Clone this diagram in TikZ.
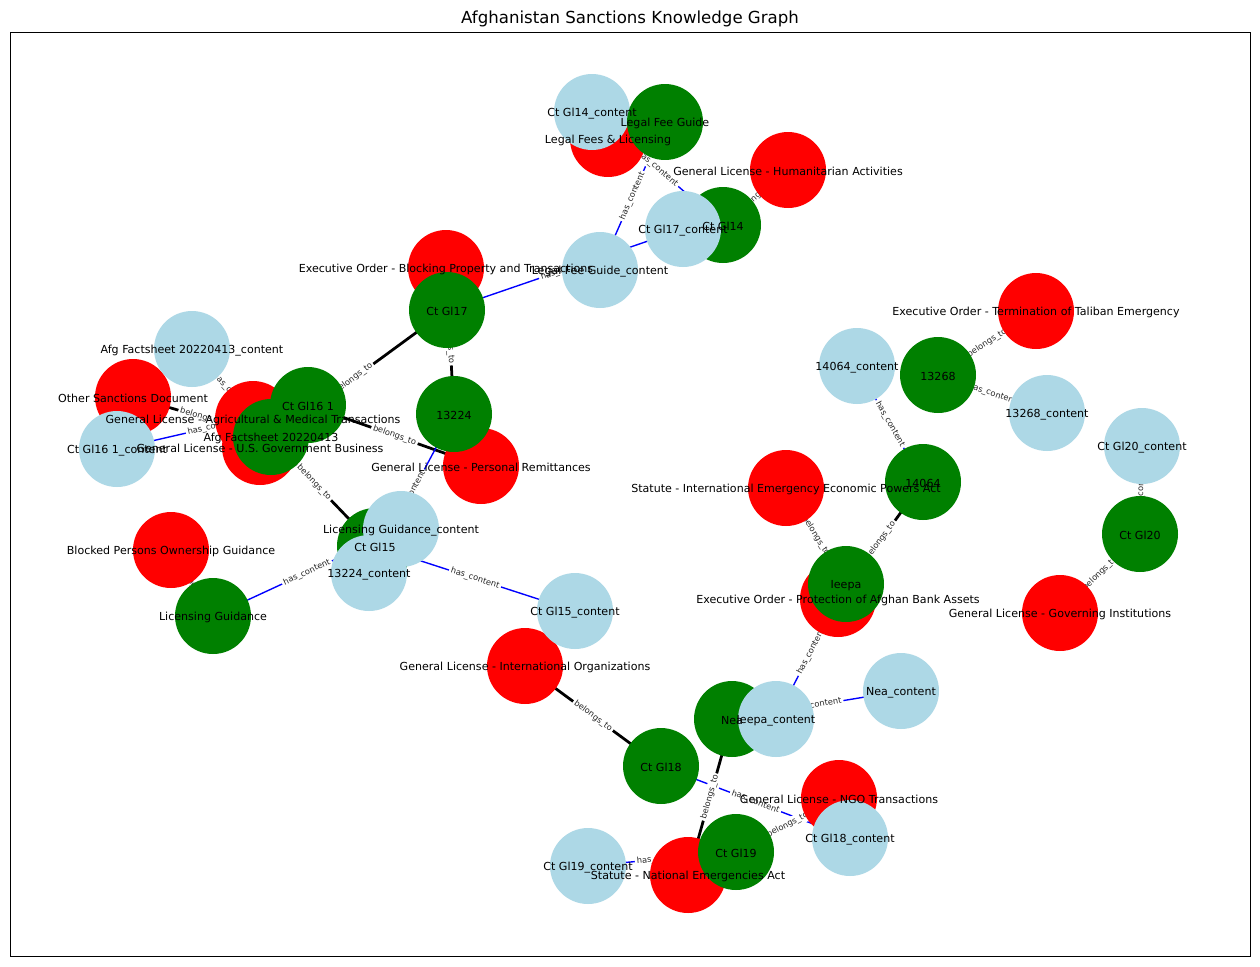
\documentclass[tikz,border=0pt]{standalone}
\usepackage{fontspec}
\setmainfont{DejaVu Sans}
\pgfdeclarelayer{edgelayer}
\pgfdeclarelayer{elabellayer}
\pgfdeclarelayer{textlayer}
\pgfsetlayers{edgelayer,elabellayer,main,textlayer}
\definecolor{lblue}{RGB}{173,216,230}
\definecolor{mgreen}{RGB}{0,128,0}
\tikzset{
  gnode/.style={circle,inner sep=0pt,minimum size=19.3mm,draw=none},
  rednode/.style={gnode,fill=red},
  greennode/.style={gnode,fill=mgreen},
  bluenode/.style={gnode,fill=lblue},
  nlabel/.style={font=\fontsize{8}{9}\selectfont,inner sep=0pt,yshift=-1pt},
  elabel/.style={sloped,font=\fontsize{6}{7}\selectfont,fill=white,rounded corners=1.5pt,inner sep=1.4pt,text=black!85},
  belongs/.style={line width=2pt,black},
  hascontent/.style={line width=1pt,blue},
}
\begin{document}
\begin{tikzpicture}[x=0.254mm,y=-0.254mm]
\useasboundingbox (0,0) rectangle (1260,966);
\begin{pgfonlayer}{edgelayer}
\fill[white] (0,0) rectangle (1260,966);
\end{pgfonlayer}
\node[font=\fontsize{12}{14}\selectfont] (title) at (630,19) {Afghanistan Sanctions Knowledge Graph};
% red nodes
\node[rednode] (rLFL) at (608,139) {};
\node[rednode] (rHum) at (788,170) {};
\node[rednode] (rEOB) at (446,268) {};
\node[rednode] (rOSD) at (133,397) {};
\node[rednode] (rAgr) at (253,419) {};
\node[rednode] (rUSG) at (260,447) {};
\node[rednode] (rPR) at (481,466) {};
\node[rednode] (rBPO) at (171,550) {};
\node[rednode] (rIO) at (525,666) {};
\node[rednode] (rIEEPA) at (786,488) {};
\node[rednode] (rEOT) at (1036,311) {};
\node[rednode] (rEOP) at (838,599) {};
\node[rednode] (rGI) at (1060,613) {};
\node[rednode] (rNGO) at (839,798) {};
\node[rednode] (rNEA) at (688,875) {};
% green nodes
\node[greennode] (g14) at (723,225) {};
\node[greennode] (g17) at (447,310) {};
\node[greennode] (g13224) at (454,414) {};
\node[greennode] (g16) at (308,405) {};
\node[greennode] (gAfg) at (271,437) {};
\node[greennode] (g15) at (375,546) {};
\node[greennode] (gLG) at (213,616) {};
\node[greennode] (g13268) at (938,375) {};
\node[greennode] (g14064) at (923,482) {};
\node[greennode] (gIeepa) at (846,584) {};
\node[greennode] (g20) at (1140,534) {};
\node[greennode] (gNea) at (732,719) {};
\node[greennode] (g18) at (661,766) {};
\node[greennode] (g19) at (736,852) {};
% content nodes
\node[bluenode] (c14) at (592,112) {};
\node[bluenode] (c17) at (683,229) {};
\node[bluenode] (cLFG) at (600,270) {};
\node[bluenode] (cAfg) at (192,349) {};
\node[bluenode] (c16) at (117,449) {};
\node[bluenode] (cLG) at (401,529) {};
\node[bluenode] (c13224) at (369,573) {};
\node[bluenode] (c15) at (575,611) {};
\node[bluenode] (c14064) at (857,366) {};
\node[bluenode] (c13268) at (1047,413) {};
\node[bluenode] (c20) at (1142,446) {};
\node[bluenode] (cNea) at (901,691) {};
\node[bluenode] (cIeepa) at (776,719) {};
\node[bluenode] (c18) at (850,838) {};
\node[bluenode] (c19) at (588,866) {};
\node[greennode] (gLFG) at (665,122) {};
% edges
\begin{pgfonlayer}{edgelayer}
\foreach \g/\r in {gLFG/rLFL,g14/rHum,g17/rUSG,g13224/rEOB,g16/rPR,gAfg/rOSD,g15/rAgr,gLG/rBPO,g13268/rEOT,g14064/rEOP,gIeepa/rIEEPA,g20/rGI,gNea/rNEA,g18/rIO,g19/rNGO}
  \draw[belongs] (\g.center) -- (\r.center);
\foreach \g/\c in {gLFG/cLFG,g14/c14,g17/c17,g13224/c13224,g16/c16,gAfg/cAfg,g15/c15,gLG/cLG,g13268/c13268,g14064/c14064,gIeepa/cIeepa,g20/c20,gNea/cNea,g18/c18,g19/c19}
  \draw[hascontent] (\g.center) -- (\c.center);
\end{pgfonlayer}
\begin{pgfonlayer}{elabellayer}
\foreach \g/\r in {gLFG/rLFL,g14/rHum,g17/rUSG,g13224/rEOB,g16/rPR,gAfg/rOSD,g15/rAgr,gLG/rBPO,g13268/rEOT,g14064/rEOP,gIeepa/rIEEPA,g20/rGI,gNea/rNEA,g18/rIO,g19/rNGO}
  \path (\g.center) -- node[elabel] {belongs\_to} (\r.center);
\foreach \g/\c in {gLFG/cLFG,g14/c14,g17/c17,g13224/c13224,g16/c16,gAfg/cAfg,g15/c15,gLG/cLG,g13268/c13268,g14064/c14064,gIeepa/cIeepa,g20/c20,gNea/cNea,g18/c18,g19/c19}
  \path (\g.center) -- node[elabel] {has\_content} (\c.center);
\end{pgfonlayer}
% node labels
\begin{pgfonlayer}{textlayer}
\node[nlabel] at (rLFL) {Legal Fees \& Licensing};
\node[nlabel] at (rHum) {General License - Humanitarian Activities};
\node[nlabel] at (rEOB) {Executive Order - Blocking Property and Transactions};
\node[nlabel] at (rOSD) {Other Sanctions Document};
\node[nlabel] at (rAgr) {General License - Agricultural \& Medical Transactions};
\node[nlabel] at (rUSG) {General License - U.S. Government Business};
\node[nlabel] at (rPR) {General License - Personal Remittances};
\node[nlabel] at (rBPO) {Blocked Persons Ownership Guidance};
\node[nlabel] at (rIO) {General License - International Organizations};
\node[nlabel] at (rIEEPA) {Statute - International Emergency Economic Powers Act};
\node[nlabel] at (rEOT) {Executive Order - Termination of Taliban Emergency};
\node[nlabel] at (rEOP) {Executive Order - Protection of Afghan Bank Assets};
\node[nlabel] at (rGI) {General License - Governing Institutions};
\node[nlabel] at (rNGO) {General License - NGO Transactions};
\node[nlabel] at (rNEA) {Statute - National Emergencies Act};
\node[nlabel] at (gLFG) {Legal Fee Guide};
\node[nlabel] at (g14) {Ct Gl14};
\node[nlabel] at (g17) {Ct Gl17};
\node[nlabel] at (g13224) {13224};
\node[nlabel] at (g16) {Ct Gl16 1};
\node[nlabel] at (gAfg) {Afg Factsheet 20220413};
\node[nlabel] at (g15) {Ct Gl15};
\node[nlabel] at (gLG) {Licensing Guidance};
\node[nlabel] at (g13268) {13268};
\node[nlabel] at (g14064) {14064};
\node[nlabel] at (gIeepa) {Ieepa};
\node[nlabel] at (g20) {Ct Gl20};
\node[nlabel] at (gNea) {Nea};
\node[nlabel] at (g18) {Ct Gl18};
\node[nlabel] at (g19) {Ct Gl19};
\node[nlabel] at (c14) {Ct Gl14\_content};
\node[nlabel] at (c17) {Ct Gl17\_content};
\node[nlabel] at (cLFG) {Legal Fee Guide\_content};
\node[nlabel] at (cAfg) {Afg Factsheet 20220413\_content};
\node[nlabel] at (c16) {Ct Gl16 1\_content};
\node[nlabel] at (cLG) {Licensing Guidance\_content};
\node[nlabel] at (c13224) {13224\_content};
\node[nlabel] at (c15) {Ct Gl15\_content};
\node[nlabel] at (c14064) {14064\_content};
\node[nlabel] at (c13268) {13268\_content};
\node[nlabel] at (c20) {Ct Gl20\_content};
\node[nlabel] at (cNea) {Nea\_content};
\node[nlabel] at (cIeepa) {Ieepa\_content};
\node[nlabel] at (c18) {Ct Gl18\_content};
\node[nlabel] at (c19) {Ct Gl19\_content};
\draw[line width=0.7pt] (10,32) rectangle (1250,956);
\end{pgfonlayer}
\end{tikzpicture}
\end{document}
